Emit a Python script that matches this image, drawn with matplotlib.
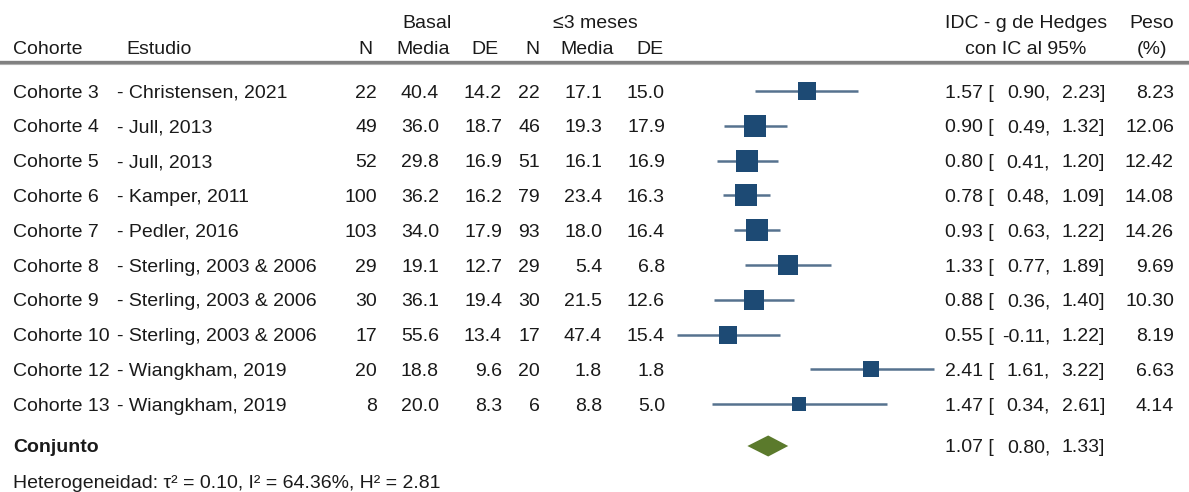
import numpy as np
import matplotlib.pyplot as plt

plt.rcParams['font.family'] = ['Liberation Sans', 'DejaVu Sans']

# Study data
cohorts = ['Cohorte 3', 'Cohorte 4', 'Cohorte 5', 'Cohorte 6', 'Cohorte 7',
           'Cohorte 8', 'Cohorte 9', 'Cohorte 10', 'Cohorte 12', 'Cohorte 13']
studies = ['- Christensen, 2021', '- Jull, 2013', '- Jull, 2013', '- Kamper, 2011',
           '- Pedler, 2016', '- Sterling, 2003 & 2006', '- Sterling, 2003 & 2006',
           '- Sterling, 2003 & 2006', '- Wiangkham, 2019', '- Wiangkham, 2019']
n_basal = [22, 49, 52, 100, 103, 29, 30, 17, 20, 8]
media_basal = [40.4, 36.0, 29.8, 36.2, 34.0, 19.1, 36.1, 55.6, 18.8, 20.0]
de_basal = [14.2, 18.7, 16.9, 16.2, 17.9, 12.7, 19.4, 13.4, 9.6, 8.3]
n_3m = [22, 46, 51, 79, 93, 29, 30, 17, 20, 6]
media_3m = [17.1, 19.3, 16.1, 23.4, 18.0, 5.4, 21.5, 47.4, 1.8, 8.8]
de_3m = [15.0, 17.9, 16.9, 16.3, 16.4, 6.8, 12.6, 15.4, 1.8, 5.0]
g = [1.57, 0.90, 0.80, 0.78, 0.93, 1.33, 0.88, 0.55, 2.41, 1.47]
ci_lo = [0.90, 0.49, 0.41, 0.48, 0.63, 0.77, 0.36, -0.11, 1.61, 0.34]
ci_hi = [2.23, 1.32, 1.20, 1.09, 1.22, 1.89, 1.40, 1.22, 3.22, 2.61]
peso = [8.23, 12.06, 12.42, 14.08, 14.26, 9.69, 10.30, 8.19, 6.63, 4.14]

pooled = (1.07, 0.80, 1.33)
tau2, i2, h2 = 0.10, 64.36, 2.81

# layout (pixel units of the 1189x492 canvas)
W, H = 1189, 492
row_y = 91 + 34.8 * np.arange(len(cohorts))
pooled_y = 446
x0_px, px_per_unit = 685.8, 77.0

navy = '#1d4a74'
ci_col = '#56728f'
green = '#5b7a2c'
txt = '#1a1a1a'
fs = 14

fig = plt.figure(figsize=(W / 100, H / 100), dpi=100)

# text table axes (pixel x)
tab = fig.add_axes([0, 0, 1, 1])
tab.set_xlim(0, W)
tab.set_ylim(H, 0)
tab.axis('off')

# forest axes (effect size x)
ax = fig.add_axes([0, 0, 1, 1])
ax.set_xlim(-x0_px / px_per_unit, (W - x0_px) / px_per_unit)
ax.set_ylim(H, 0)
ax.axis('off')
ax.patch.set_alpha(0)


def t(x, y, s, ha='left', **kw):
    tab.text(x, y, s, ha=ha, va='center_baseline', fontsize=fs, color=txt, **kw)


# headers
t(427, 21, 'Basal', ha='center')
t(595, 21, '≤3 meses', ha='center')
t(1026, 21, 'IDC - g de Hedges', ha='center')
t(1151.5, 21, 'Peso', ha='center')
t(13, 48, 'Cohorte')
t(126, 48, 'Estudio')
for xc, lab in zip([365, 423.5, 485, 532.5, 587, 650],
                   ['N', 'Media', 'DE', 'N', 'Media', 'DE']):
    t(xc, 48, lab, ha='center')
t(1026, 48, 'con IC al 95%', ha='center')
t(1151.5, 48, '(%)', ha='center')
tab.axhline(62, color='#808080', lw=2.4)
tab.axhline(63.5, color='#b0b0b0', lw=0.8)

# table rows
for i, y in enumerate(row_y):
    t(13, y, cohorts[i])
    t(117, y, studies[i])
    t(377, y, f'{n_basal[i]}', ha='right')
    t(439, y, f'{media_basal[i]:.1f}', ha='right')
    t(502, y, f'{de_basal[i]:.1f}', ha='right')
    t(540, y, f'{n_3m[i]}', ha='right')
    t(602, y, f'{media_3m[i]:.1f}', ha='right')
    t(665, y, f'{de_3m[i]:.1f}', ha='right')
    t(945, y, f'{g[i]:.2f} [')
    t(1050, y, f'{ci_lo[i]:.2f},', ha='right')
    t(1105, y, f'{ci_hi[i]:.2f}]', ha='right')
    t(1174, y, f'{peso[i]:.2f}', ha='right')

# forest marks
for i, y in enumerate(row_y):
    ax.plot([ci_lo[i], ci_hi[i]], [y, y], color=ci_col, lw=1.8,
            solid_capstyle='butt', zorder=2)
    side_px = 3.8 + 5.0 * np.sqrt(peso[i])
    ax.plot(g[i], y, marker='s', color=navy, markersize=side_px * 0.72,
            markeredgewidth=0, zorder=3)

est, lo, hi = pooled
half_h = 10.5
ax.fill([lo, est, hi, est], [pooled_y, pooled_y - half_h, pooled_y, pooled_y + half_h],
        color=green, lw=0, zorder=3)

t(13, pooled_y, 'Conjunto', fontweight='bold')
t(945, pooled_y, f'{est:.2f} [')
t(1050, pooled_y, f'{lo:.2f},', ha='right')
t(1105, pooled_y, f'{hi:.2f}]', ha='right')
t(13, 481, f'Heterogeneidad: τ² = {tau2:.2f}, I² = {i2:.2f}%, H² = {h2:.2f}')

fig.savefig('out.png', dpi=100, facecolor='white')
